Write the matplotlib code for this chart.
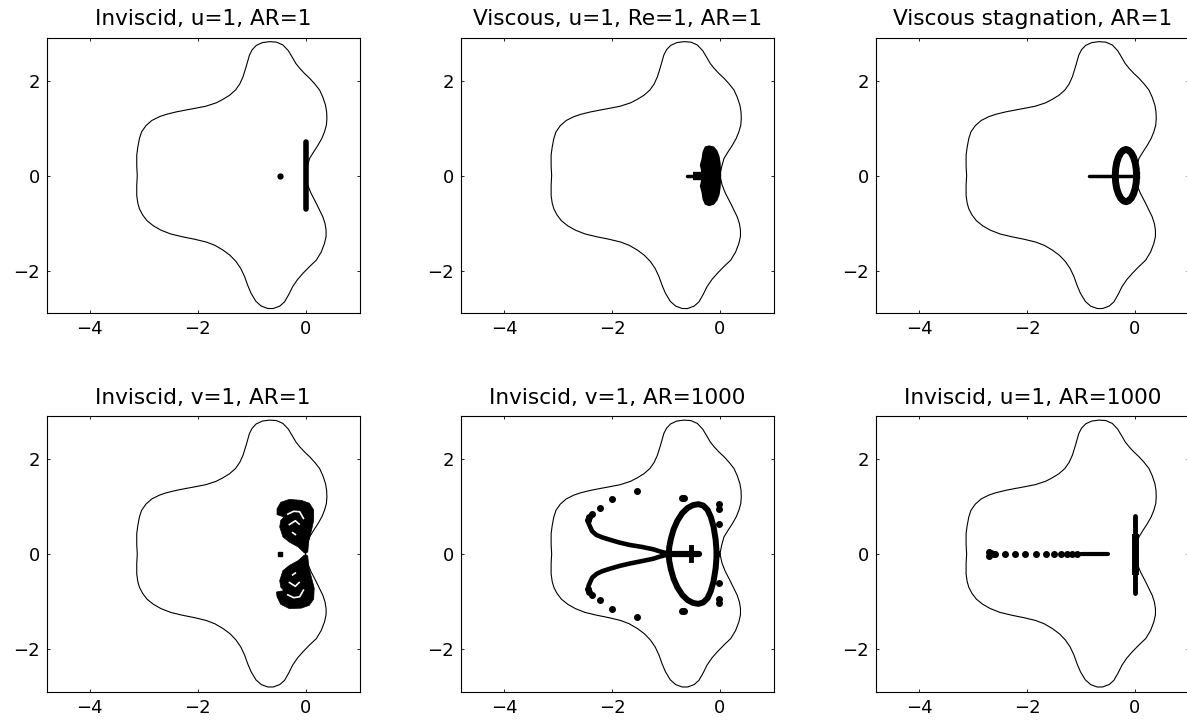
import matplotlib.pyplot as plt

plt.rcParams['font.family'] = ['DejaVu Sans']
plt.rcParams['font.size'] = 13

# domain boundary, traced once around starting at the origin
wall_x = [0.0, 0.03, 0.074, 0.15, 0.23, 0.30, 0.35, 0.385, 0.395, 0.39, 0.37, 0.32, 0.26, 0.17,
          0.074, -0.02, -0.11, -0.18, -0.236, -0.32, -0.42, -0.54, -0.668, -0.80, -0.915, -0.99,
          -1.04, -1.10, -1.16, -1.22, -1.30, -1.41, -1.54, -1.66, -1.85, -2.03, -2.22, -2.40,
          -2.58, -2.71, -2.85, -2.96, -3.04, -3.08, -3.11, -3.13, -3.13, -3.12, -3.13, -3.13,
          -3.11, -3.08, -3.02, -2.94, -2.82, -2.68, -2.50, -2.28, -2.06, -1.84, -1.68, -1.53,
          -1.40, -1.29, -1.20, -1.13, -1.07, -1.01, -0.92, -0.82, -0.70, -0.60, -0.48, -0.39,
          -0.31, -0.24, -0.15, -0.05, 0.07, 0.20, 0.29, 0.35, 0.38, 0.38, 0.36, 0.32, 0.26, 0.20,
          0.15, 0.10, 0.04, 0.0]
wall_y = [0.0, 0.18, 0.36, 0.50, 0.64, 0.78, 0.92, 1.06, 1.20, 1.34, 1.48, 1.65, 1.80, 1.93,
          2.05, 2.15, 2.26, 2.36, 2.47, 2.63, 2.75, 2.81, 2.82, 2.80, 2.74, 2.65, 2.54, 2.30,
          2.08, 1.93, 1.80, 1.69, 1.60, 1.53, 1.46, 1.42, 1.38, 1.34, 1.29, 1.24, 1.16, 1.05,
          0.92, 0.78, 0.60, 0.43, 0.20, 0.0, -0.20, -0.42, -0.58, -0.70, -0.83, -0.95, -1.06,
          -1.15, -1.23, -1.29, -1.34, -1.40, -1.47, -1.57, -1.68, -1.81, -1.96, -2.13, -2.32,
          -2.48, -2.65, -2.75, -2.80, -2.80, -2.75, -2.66, -2.50, -2.34, -2.19, -2.06, -1.92,
          -1.78, -1.61, -1.43, -1.28, -1.15, -1.01, -0.87, -0.73, -0.59, -0.48, -0.37, -0.20, 0.0]

titles = ['Inviscid, u=1, AR=1', 'Viscous, u=1, Re=1, AR=1', 'Viscous stagnation, AR=1',
          'Inviscid, v=1, AR=1', 'Inviscid, v=1, AR=1000', 'Inviscid, u=1, AR=1000']

# inviscid u=1, AR=1
p1_bar_x = [0.0, 0.0]
p1_bar_y = [-0.71, 0.71]
p1_dot_x = [-0.48]
p1_dot_y = [0.0]

# viscous u=1
p2_blob_x = [-0.20, -0.12, -0.06, -0.02, 0.0, 0.01, 0.0, -0.02, -0.06, -0.12, -0.20, -0.27,
             -0.31, -0.33, -0.36, -0.34, -0.34, -0.36, -0.33, -0.31, -0.27]
p2_blob_y = [0.62, 0.60, 0.52, 0.40, 0.25, 0.0, -0.25, -0.40, -0.52, -0.60, -0.63, -0.60,
             -0.50, -0.35, -0.22, -0.12, 0.12, 0.22, 0.35, 0.50, 0.60]
p2_stem_x = [-0.62, -0.34]
p2_stem_y = [0.0, 0.0]
p2_root_x = [-0.50, -0.34]
p2_root_y = [0.0, 0.0]

# viscous stagnation
p3_ring_x = [0.03, 0.024, 0.004, -0.028, -0.068, -0.116, -0.165, -0.216, -0.264, -0.305,
             -0.338, -0.358, -0.365, -0.358, -0.338, -0.305, -0.264, -0.216, -0.165, -0.116,
             -0.068, -0.028, 0.004, 0.024, 0.03]
p3_ring_y = [0.0, 0.142, 0.275, 0.389, 0.476, 0.531, 0.55, 0.531, 0.476, 0.389, 0.275, 0.142,
             0.0, -0.142, -0.275, -0.389, -0.476, -0.531, -0.55, -0.531, -0.476, -0.389,
             -0.275, -0.142, 0.0]
p3_stem_x = [-0.85, -0.05]
p3_stem_y = [0.0, 0.0]

# inviscid v=1, AR=1
p4_top_x = [-0.53, -0.46, -0.30, -0.08, 0.07, 0.15, 0.15, 0.11, 0.06, 0.04, -0.02, -0.14,
            -0.30, -0.42, -0.48, -0.46, -0.40, -0.53]
p4_top_y = [0.95, 1.09, 1.15, 1.13, 1.07, 0.93, 0.71, 0.50, 0.29, 0.04, 0.02, 0.15, 0.25,
            0.36, 0.57, 0.71, 0.78, 0.83]
p4_bot_x = [-0.53, -0.46, -0.30, -0.08, 0.07, 0.15, 0.16, 0.11, 0.06, 0.04, -0.02, -0.14,
            -0.30, -0.42, -0.48, -0.46, -0.40, -0.54]
p4_bot_y = [-0.90, -1.06, -1.15, -1.14, -1.08, -0.95, -0.72, -0.50, -0.28, -0.04, -0.02,
            -0.14, -0.24, -0.35, -0.56, -0.70, -0.77, -0.80]
p4_gap_x = [[-0.33, -0.22, -0.11, -0.04], [-0.30, -0.19, -0.12], [-0.24, -0.19],
            [-0.33, -0.22, -0.11, -0.04], [-0.30, -0.19, -0.12], [-0.24, -0.19]]
p4_gap_y = [[0.84, 0.90, 0.89, 0.75], [0.62, 0.70, 0.63], [0.45, 0.41],
            [-0.86, -0.92, -0.90, -0.76], [-0.60, -0.68, -0.60], [-0.44, -0.40]]
p4_dot_x = [-0.48]
p4_dot_y = [0.0]

# inviscid v=1, AR=1000
p5_ring_x = [-0.06, -0.08, -0.12, -0.17, -0.23, -0.31, -0.40, -0.50, -0.60, -0.70, -0.79,
             -0.86, -0.91, -0.94, -0.95, -0.94, -0.91, -0.86, -0.79, -0.70, -0.60, -0.50,
             -0.40, -0.31, -0.23, -0.17, -0.12, -0.08, -0.06]
p5_ring_y = [0.0, 0.30, 0.58, 0.78, 0.93, 1.02, 1.05, 1.03, 0.97, 0.86, 0.70, 0.52, 0.32,
             0.15, 0.0, -0.15, -0.32, -0.52, -0.70, -0.86, -0.97, -1.03, -1.05, -1.02, -0.93,
             -0.78, -0.58, -0.30, 0.0]
p5_arm_up_x = [-0.96, -1.10, -1.24, -1.45, -1.67, -1.86, -2.04, -2.18, -2.29, -2.37, -2.41, -2.44]
p5_arm_up_y = [0.01, 0.05, 0.10, 0.15, 0.19, 0.24, 0.30, 0.35, 0.40, 0.48, 0.58, 0.66]
p5_arm_dn_x = [-0.96, -1.10, -1.24, -1.45, -1.67, -1.86, -2.04, -2.18, -2.29, -2.37, -2.41, -2.44]
p5_arm_dn_y = [-0.01, -0.05, -0.10, -0.15, -0.20, -0.25, -0.31, -0.36, -0.42, -0.50, -0.60, -0.68]
p5_dots_x = [-2.44, -2.42, -2.38, -2.23, -2.01, -1.53, -0.70, -0.66, -0.01, -0.01, -0.01,
             -2.44, -2.42, -2.37, -2.23, -2.01, -1.53, -0.70, -0.66, -0.01, -0.01, -0.01]
p5_dots_y = [0.72, 0.78, 0.84, 0.97, 1.16, 1.33, 1.19, 1.19, 1.06, 0.95, 0.63,
             -0.74, -0.80, -0.87, -0.96, -1.15, -1.33, -1.19, -1.19, -0.94, -1.04, -0.62]
p5_stem_x = [-0.96, -0.39]
p5_stem_y = [0.0, 0.0]
p5_cross_x = [-0.53, -0.53]
p5_cross_y = [-0.13, 0.15]

# inviscid u=1, AR=1000
p6_bar_x = [0.0, 0.0]
p6_bar_y = [-0.82, 0.81]
p6_core_x = [0.0, 0.0]
p6_core_y = [-0.35, 0.35]
p6_dots_x = [-2.71, -2.70, -2.66, -2.62, -2.59, -2.41, -2.23, -2.03, -1.83, -1.65, -1.50,
             -1.37, -1.26, -1.16, -1.07]
p6_dots_y = [0.05, -0.05, 0.02, 0.0, 0.01, 0.0, 0.0, 0.0, 0.0, 0.0, 0.0, 0.0, 0.0, 0.0, 0.0]
p6_stem_x = [-1.00, -0.50]
p6_stem_y = [0.0, 0.0]

fig = plt.figure(figsize=(11.87, 7.21), dpi=100)
col_left = [0.0393, 0.3884, 0.7380]
row_bottom = [0.5655, 0.0406]
axes = []
for r in range(2):
    for c in range(3):
        axes.append(fig.add_axes([col_left[c], row_bottom[r], 0.2636, 0.3820]))

for ax, title in zip(axes, titles):
    ax.plot(wall_x, wall_y, color='k', lw=0.8)
    ax.set_xlim(-4.8, 1.0)
    ax.set_ylim(-2.9, 2.9)
    ax.set_xticks([-4, -2, 0])
    ax.set_yticks([-2, 0, 2])
    ax.tick_params(direction='in', length=2.5, width=0.6, top=True, right=True, pad=5)
    for s in ax.spines.values():
        s.set_linewidth(0.8)
    ax.set_title(title, pad=9)

k = 'k'
ax = axes[0]
ax.plot(p1_bar_x, p1_bar_y, color=k, lw=4, solid_capstyle='round')
ax.plot(p1_dot_x, p1_dot_y, 'o', color=k, ms=3.5)

ax = axes[1]
ax.fill(p2_blob_x, p2_blob_y, facecolor=k, edgecolor=k, lw=1.0)
ax.plot(p2_stem_x, p2_stem_y, color=k, lw=2.5, solid_capstyle='round')
ax.plot(p2_root_x, p2_root_y, color=k, lw=6, solid_capstyle='butt')

ax = axes[2]
ax.plot(p3_ring_x, p3_ring_y, color=k, lw=5)
ax.plot(p3_stem_x, p3_stem_y, color=k, lw=2.5, solid_capstyle='round')

ax = axes[3]
ax.fill(p4_top_x, p4_top_y, color=k, lw=0.5)
ax.fill(p4_bot_x, p4_bot_y, color=k, lw=0.5)
for gx, gy in zip(p4_gap_x, p4_gap_y):
    ax.plot(gx, gy, color='w', lw=1.2)
ax.plot(p4_dot_x, p4_dot_y, 's', color=k, ms=3)

ax = axes[4]
ax.plot(p5_ring_x, p5_ring_y, color=k, lw=4.3)
ax.plot(p5_arm_up_x, p5_arm_up_y, color=k, lw=3.3, solid_capstyle='round')
ax.plot(p5_arm_dn_x, p5_arm_dn_y, color=k, lw=3.3, solid_capstyle='round')
ax.plot(p5_dots_x, p5_dots_y, 'o', color=k, ms=4)
ax.plot(p5_stem_x, p5_stem_y, color=k, lw=4.5, solid_capstyle='round')
ax.plot(p5_cross_x, p5_cross_y, color=k, lw=3.5)

ax = axes[5]
ax.plot(p6_bar_x, p6_bar_y, color=k, lw=3.5, solid_capstyle='round')
ax.plot(p6_core_x, p6_core_y, color=k, lw=5)
ax.plot(p6_dots_x, p6_dots_y, 'o', color=k, ms=4)
ax.plot(p6_stem_x, p6_stem_y, color=k, lw=3, solid_capstyle='round')

fig.savefig('out.png', dpi=100)
